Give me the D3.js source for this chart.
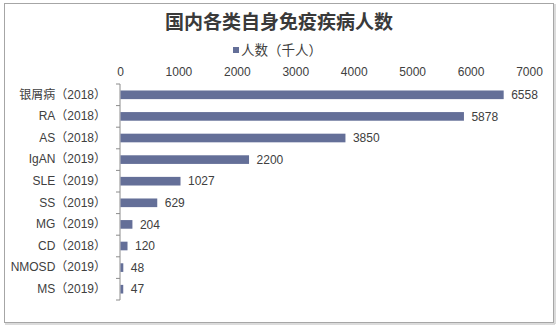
<!DOCTYPE html>
<html>
<head>
<meta charset="utf-8">
<script src="https://cdn.jsdelivr.net/npm/d3@7"></script>
<style>
  html, body { margin: 0; padding: 0; background: #fff; }
  svg { display: block; }
</style>
</head>
<body>
<svg id="chart" width="560" height="328"></svg>
<script>
// Autoimmune disease patient counts (thousands)
const categories = ["银屑病（2018）", "RA（2018）", "AS（2018）", "IgAN（2019）", "SLE（2019）",
                    "SS（2019）", "MG（2019）", "CD（2018）", "NMOSD（2019）", "MS（2019）"];
const values = [6558, 5878, 3850, 2200, 1027, 629, 204, 120, 48, 47];
const xTicks = [0, 1000, 2000, 3000, 4000, 5000, 6000, 7000];
const titleText = "国内各类自身免疫疾病人数";
const seriesName = "人数（千人）";

const svg = d3.select("#chart");
const font = "'Liberation Sans', Arial, 'Noto Sans CJK SC', sans-serif";
const barColor = "#646f98";
const textColor = "#404040";

// outer frame
svg.append("rect")
  .attr("x", 4.5).attr("y", 3.5).attr("width", 549).attr("height", 319)
  .attr("fill", "#fff").attr("stroke", "#a6a6a6").attr("stroke-width", 1);
svg.append("line").attr("x1", 555).attr("x2", 555).attr("y1", 4).attr("y2", 324)
  .attr("stroke", "#cfcfcf").attr("stroke-width", 1.5);
svg.append("line").attr("x1", 5).attr("x2", 555).attr("y1", 324).attr("y2", 324)
  .attr("stroke", "#cfcfcf").attr("stroke-width", 1.5);

const x = d3.scaleLinear().domain([0, 7000]).range([120, 529]);
const y = d3.scaleBand().domain(categories).range([84, 300]).paddingInner(0.6).paddingOuter(0.3);

// title
svg.append("text")
  .attr("x", 279).attr("y", 29)
  .attr("text-anchor", "middle")
  .attr("font-family", "'Noto Sans CJK SC', sans-serif")
  .attr("font-weight", "bold")
  .attr("font-size", 19)
  .attr("fill", "#3a3a3a")
  .text(titleText);

// legend
svg.append("rect").attr("x", 233).attr("y", 47).attr("width", 6).attr("height", 6).attr("fill", barColor);
svg.append("text")
  .attr("x", 241).attr("y", 55)
  .attr("font-family", "'Noto Sans CJK SC', sans-serif")
  .attr("font-size", 13.5)
  .attr("fill", textColor)
  .text(seriesName);

// top value axis (labels only)
const xAxis = d3.axisTop(x).tickValues(xTicks).tickSize(0).tickPadding(0).tickFormat(d3.format("d"));
const gx = svg.append("g").attr("transform", "translate(0,76)").call(xAxis);
gx.select(".domain").remove();
gx.selectAll("text")
  .attr("font-family", font).attr("font-size", 12).attr("fill", textColor);

// category axis
const yAxis = d3.axisLeft(y).tickSize(0).tickPadding(14);
const gy = svg.append("g").attr("transform", `translate(${x(0)},0)`).call(yAxis);
gy.select(".domain").remove();
gy.selectAll("text")
  .attr("font-family", font).attr("font-size", 12).attr("fill", textColor);

// axis line with boundary ticks between categories
const step = y.step();
const y0 = y.range()[0];
svg.append("line")
  .attr("x1", x(0)).attr("x2", x(0))
  .attr("y1", y0).attr("y2", y0 + step * categories.length)
  .attr("stroke", "#8c8c8c").attr("stroke-width", 1);
svg.append("g").selectAll("line")
  .data(d3.range(categories.length + 1))
  .join("line")
  .attr("x1", x(0) - 4).attr("x2", x(0))
  .attr("y1", i => y0 + i * step).attr("y2", i => y0 + i * step)
  .attr("stroke", "#8c8c8c").attr("stroke-width", 1);

// bars
const data = categories.map((c, i) => ({ c, v: values[i] }));
svg.append("g").selectAll("rect")
  .data(data)
  .join("rect")
  .attr("x", x(0) + 0.5)
  .attr("y", d => y(d.c))
  .attr("width", d => Math.max(x(d.v) - x(0), 1))
  .attr("height", y.bandwidth())
  .attr("fill", barColor);

// value labels
svg.append("g").selectAll("text")
  .data(data)
  .join("text")
  .attr("x", d => x(d.v) + 8)
  .attr("y", d => y(d.c) + y.bandwidth() / 2)
  .attr("dy", "0.35em")
  .attr("font-family", font).attr("font-size", 12).attr("fill", textColor)
  .text(d => d.v);
</script>
</body>
</html>
